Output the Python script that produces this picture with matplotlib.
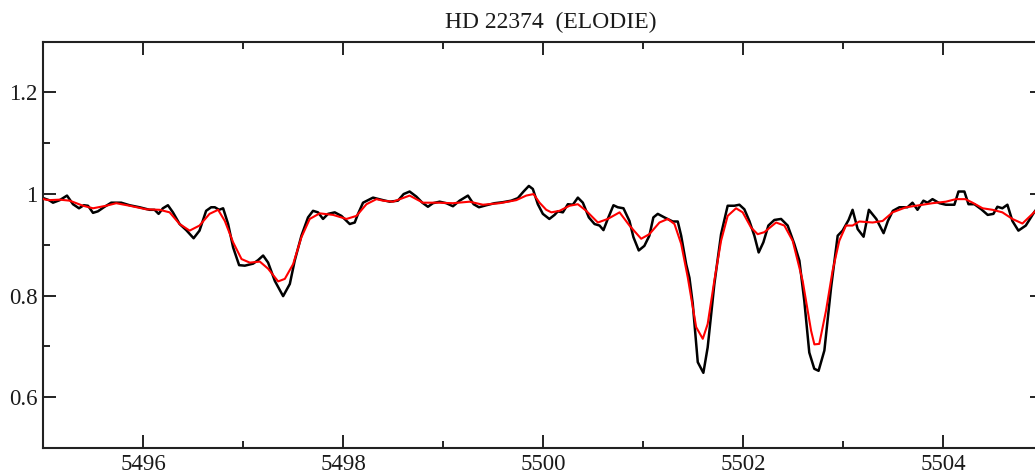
import matplotlib
matplotlib.use("Agg")
import matplotlib.pyplot as plt
from matplotlib.ticker import MultipleLocator

plt.rcParams['font.family'] = ['Liberation Serif', 'DejaVu Serif']

title = "HD 22374  (ELODIE)"

# observed spectrum (black)
obs_wave = [5495.00, 5495.057, 5495.097, 5495.164, 5495.237, 5495.297, 5495.357, 5495.404, 5495.447,
            5495.497, 5495.546, 5495.613, 5495.679, 5495.779, 5495.863, 5495.963, 5496.063,
            5496.113, 5496.153, 5496.196, 5496.246, 5496.296, 5496.363, 5496.429, 5496.503,
            5496.562, 5496.628, 5496.678, 5496.715, 5496.758, 5496.798, 5496.848, 5496.898,
            5496.958, 5497.015, 5497.098, 5497.148, 5497.198, 5497.248, 5497.315, 5497.398,
            5497.465, 5497.514, 5497.581, 5497.647, 5497.697, 5497.747, 5497.797, 5497.847,
            5497.914, 5497.981, 5498.064, 5498.114, 5498.147, 5498.197, 5498.297, 5498.397,
            5498.464, 5498.546, 5498.603, 5498.663, 5498.730, 5498.790, 5498.846, 5498.896,
            5498.963, 5499.030, 5499.096, 5499.163, 5499.246, 5499.303, 5499.356, 5499.430,
            5499.512, 5499.595, 5499.679, 5499.745, 5499.802, 5499.855, 5499.895, 5499.945,
            5499.995, 5500.060, 5500.112, 5500.145, 5500.195, 5500.245, 5500.295, 5500.345,
            5500.395, 5500.455, 5500.512, 5500.562, 5500.601, 5500.644, 5500.701, 5500.744,
            5500.801, 5500.861, 5500.901, 5500.954, 5501.010, 5501.060, 5501.100, 5501.144,
            5501.211, 5501.294, 5501.344, 5501.378, 5501.428, 5501.461, 5501.494, 5501.544,
            5501.600, 5501.643, 5501.710, 5501.777, 5501.843, 5501.910, 5501.960, 5502.010,
            5502.060, 5502.110, 5502.153, 5502.200, 5502.250, 5502.310, 5502.377, 5502.443,
            5502.509, 5502.560, 5502.609, 5502.659, 5502.709, 5502.752, 5502.810, 5502.877,
            5502.943, 5502.992, 5503.052, 5503.092, 5503.143, 5503.202, 5503.255, 5503.329,
            5503.402, 5503.445, 5503.495, 5503.560, 5503.641, 5503.691, 5503.741, 5503.800,
            5503.841, 5503.891, 5503.960, 5504.025, 5504.110, 5504.151, 5504.210, 5504.251,
            5504.310, 5504.379, 5504.443, 5504.500, 5504.540, 5504.590, 5504.640, 5504.690,
            5504.750, 5504.824, 5504.907, 5504.960]
obs_flux = [0.992, 0.988, 0.983, 0.988, 0.997, 0.980, 0.972, 0.978, 0.977,
            0.963, 0.966, 0.975, 0.983, 0.983, 0.978, 0.974, 0.969,
            0.969, 0.961, 0.972, 0.978, 0.964, 0.941, 0.929, 0.913,
            0.928, 0.967, 0.974, 0.974, 0.969, 0.972, 0.941, 0.895,
            0.860, 0.859, 0.863, 0.870, 0.879, 0.865, 0.829, 0.799,
            0.823, 0.869, 0.918, 0.954, 0.967, 0.964, 0.951, 0.961,
            0.964, 0.957, 0.941, 0.944, 0.961, 0.983, 0.993, 0.988,
            0.985, 0.987, 1.000, 1.005, 0.995, 0.983, 0.975, 0.982,
            0.985, 0.982, 0.976, 0.987, 0.997, 0.980, 0.974, 0.978,
            0.982, 0.984, 0.987, 0.992, 1.005, 1.016, 1.010, 0.980,
            0.961, 0.951, 0.959, 0.966, 0.964, 0.980, 0.979, 0.993,
            0.983, 0.954, 0.941, 0.938, 0.929, 0.951, 0.978, 0.974,
            0.972, 0.947, 0.915, 0.889, 0.898, 0.918, 0.954, 0.961,
            0.954, 0.946, 0.946, 0.918, 0.862, 0.835, 0.784, 0.669,
            0.648, 0.698, 0.823, 0.921, 0.977, 0.977, 0.979, 0.970,
            0.947, 0.918, 0.885, 0.905, 0.938, 0.949, 0.951, 0.938,
            0.902, 0.869, 0.790, 0.688, 0.656, 0.652, 0.692, 0.816,
            0.918, 0.928, 0.949, 0.969, 0.931, 0.916, 0.969, 0.951,
            0.923, 0.947, 0.967, 0.974, 0.974, 0.983, 0.969, 0.987,
            0.983, 0.990, 0.982, 0.979, 0.979, 1.005, 1.005, 0.980,
            0.980, 0.970, 0.959, 0.961, 0.975, 0.972, 0.979, 0.947,
            0.928, 0.938, 0.964, 0.978]

# synthetic / smoothed spectrum (red)
syn_wave = [5495.00, 5495.057, 5495.164, 5495.264, 5495.397, 5495.497, 5495.629, 5495.729, 5495.863,
            5496.029, 5496.163, 5496.263, 5496.363, 5496.463, 5496.562, 5496.662, 5496.748,
            5496.815, 5496.898, 5496.982, 5497.065, 5497.165, 5497.248, 5497.348, 5497.415,
            5497.498, 5497.581, 5497.664, 5497.764, 5497.897, 5498.031, 5498.131, 5498.231,
            5498.331, 5498.397, 5498.497, 5498.663, 5498.796, 5498.946, 5499.096, 5499.263,
            5499.396, 5499.562, 5499.729, 5499.829, 5499.902, 5499.962, 5500.029, 5500.080,
            5500.162, 5500.262, 5500.345, 5500.429, 5500.545, 5500.644, 5500.762, 5500.861,
            5500.978, 5501.060, 5501.161, 5501.244, 5501.311, 5501.378, 5501.444, 5501.528,
            5501.594, 5501.643, 5501.710, 5501.777, 5501.843, 5501.927, 5501.993, 5502.077,
            5502.143, 5502.210, 5502.327, 5502.410, 5502.493, 5502.593, 5502.677, 5502.710,
            5502.759, 5502.826, 5502.892, 5502.959, 5503.026, 5503.092, 5503.159, 5503.292,
            5503.392, 5503.492, 5503.626, 5503.760, 5503.891, 5504.025, 5504.125, 5504.220,
            5504.292, 5504.392, 5504.492, 5504.590, 5504.690, 5504.790, 5504.907, 5504.960]
syn_flux = [0.990, 0.988, 0.989, 0.987, 0.977, 0.972, 0.977, 0.982, 0.977,
            0.970, 0.969, 0.964, 0.941, 0.928, 0.938, 0.961, 0.969,
            0.947, 0.905, 0.872, 0.865, 0.867, 0.853, 0.828, 0.833,
            0.862, 0.915, 0.951, 0.962, 0.959, 0.951, 0.957, 0.980,
            0.990, 0.987, 0.985, 0.997, 0.983, 0.983, 0.982, 0.985,
            0.979, 0.982, 0.988, 0.997, 1.000, 0.983, 0.969, 0.964,
            0.967, 0.977, 0.980, 0.967, 0.944, 0.951, 0.964, 0.938,
            0.912, 0.921, 0.944, 0.951, 0.941, 0.902, 0.836, 0.738,
            0.715, 0.744, 0.830, 0.908, 0.957, 0.972, 0.964, 0.934,
            0.921, 0.925, 0.944, 0.938, 0.908, 0.829, 0.731, 0.704,
            0.705, 0.770, 0.849, 0.908, 0.938, 0.938, 0.946, 0.944,
            0.947, 0.964, 0.974, 0.978, 0.982, 0.985, 0.990, 0.990,
            0.983, 0.972, 0.969, 0.964, 0.951, 0.942, 0.964, 0.975]

xticks = [5496, 5498, 5500, 5502, 5504]
yticks = [0.6, 0.8, 1.0, 1.2]
yticklabels = ["0.6", "0.8", "1", "1.2"]

W, H = 1035, 474
fig = plt.figure(figsize=(W / 100, H / 100), dpi=100)
left, right, top, bottom = 43.3, 1043.4, 41.7, 448.0
ax = fig.add_axes([left / W, 1 - bottom / H, (right - left) / W, (bottom - top) / H])

ax.plot(obs_wave, obs_flux, color='black', lw=1.8, solid_joinstyle='round', zorder=2)
ax.plot(syn_wave, syn_flux, color='#ff0000', lw=1.5, solid_joinstyle='round', zorder=3)

ax.set_xlim(5495, 5505)
ax.set_ylim(0.5, 1.3)
ax.set_xticks(xticks)
ax.set_xticklabels([str(t) for t in xticks])
ax.set_yticks(yticks)
ax.set_yticklabels(yticklabels)
ax.xaxis.set_minor_locator(MultipleLocator(1))
ax.yaxis.set_minor_locator(MultipleLocator(0.1))
ax.tick_params(which='both', direction='in', top=True, right=True, width=1.4, colors='#222222',
               labelsize=16.5, labelcolor='#1a1a1a')
ax.tick_params(which='major', length=9.5, pad=4)
ax.tick_params(which='minor', length=5)
for s in ax.spines.values():
    s.set_linewidth(1.5)
    s.set_color('#222222')

t = ax.set_title(title, fontsize=17, pad=10, color='#1a1a1a')
t.set_x(0.507)

fig.savefig("out.png", dpi=100)
